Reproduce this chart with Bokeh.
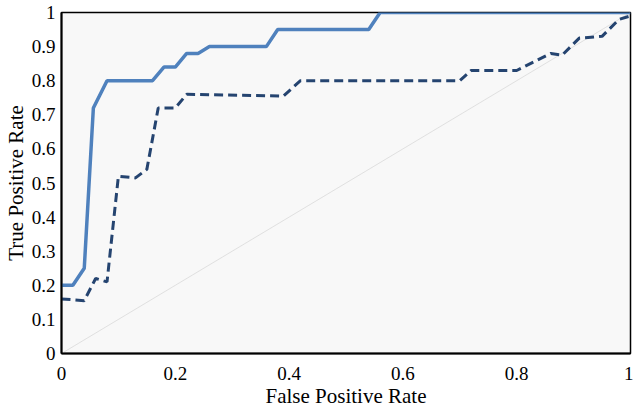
from bokeh.plotting import figure
from bokeh.models import FixedTicker
from bokeh.embed import file_html
from bokeh.resources import INLINE

# Data
solid_x = [0.0, 0.02, 0.04, 0.056, 0.08, 0.16, 0.18, 0.20, 0.22, 0.24, 0.26, 0.36, 0.38, 0.54, 0.56, 1.0]
solid_y = [0.20, 0.20, 0.25, 0.72, 0.80, 0.80, 0.84, 0.84, 0.88, 0.88, 0.90, 0.90, 0.95, 0.95, 1.0, 1.0]

dashed_x = [0.0, 0.04, 0.06, 0.08, 0.10, 0.13, 0.15, 0.17, 0.20, 0.22, 0.39, 0.42, 0.70, 0.72, 0.80, 0.86, 0.88, 0.91, 0.95, 0.98, 1.0]
dashed_y = [0.16, 0.155, 0.22, 0.21, 0.52, 0.515, 0.54, 0.72, 0.72, 0.76, 0.755, 0.80, 0.80, 0.83, 0.83, 0.88, 0.875, 0.925, 0.93, 0.98, 0.99]

diag_x = [0.0, 1.0]
diag_y = [0.0, 1.0]

x_ticks = [0, 0.2, 0.4, 0.6, 0.8, 1.0]
x_labels = ["0", "0.2", "0.4", "0.6", "0.8", "1"]
y_ticks = [0, 0.1, 0.2, 0.3, 0.4, 0.5, 0.6, 0.7, 0.8, 0.9, 1.0]
y_labels = ["0", "0.1", "0.2", "0.3", "0.4", "0.5", "0.6", "0.7", "0.8", "0.9", "1"]

FONT = "Liberation Serif"

p = figure(width=633, height=410, x_range=(0, 1), y_range=(0, 1),
           output_backend="svg", toolbar_location=None,
           min_border_left=58, min_border_right=3, min_border_top=12, min_border_bottom=55)

p.background_fill_color = "#f8f8f8"
p.border_fill_color = "white"
p.outline_line_color = "black"
p.outline_line_width = 1.5
p.grid.visible = False

p.line(diag_x, diag_y, line_color="#d9d9d9", line_width=0.8)
p.line(dashed_x, dashed_y, line_color="#254470", line_width=3, line_dash="9 5")
p.line(solid_x, solid_y, line_color="#4f81bd", line_width=3.5)

for ax, ticks, labels in ((p.xaxis[0], x_ticks, x_labels), (p.yaxis[0], y_ticks, y_labels)):
    ax.ticker = FixedTicker(ticks=ticks)
    ax.major_label_overrides = {t: l for t, l in zip(ticks, labels)}
    ax.major_tick_out = 0
    ax.major_tick_in = 0
    ax.minor_tick_out = 0
    ax.minor_tick_in = 0
    ax.axis_line_color = "black"
    ax.axis_line_width = 2
    ax.major_label_text_font = FONT
    ax.major_label_text_font_size = "19px"
    ax.major_label_text_color = "black"
    ax.axis_label_text_font = FONT
    ax.axis_label_text_font_size = "21px"
    ax.axis_label_text_font_style = "normal"
    ax.axis_label_text_color = "black"

p.xaxis.axis_label = "False Positive Rate"
p.yaxis.axis_label = "True Positive Rate"
p.xaxis.major_label_standoff = 13
p.xaxis.axis_label_standoff = 1
p.yaxis.major_label_standoff = 6
p.yaxis.axis_label_standoff = 1

open("out.html", "w").write(file_html(p, INLINE))
